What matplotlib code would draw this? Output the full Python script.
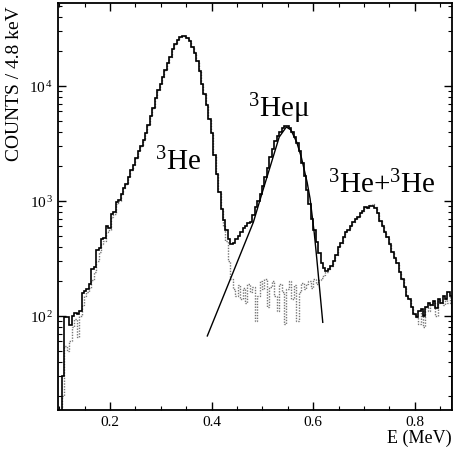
import numpy as np
import matplotlib
matplotlib.use("Agg")
import matplotlib.pyplot as plt
from matplotlib.ticker import FixedLocator, FixedFormatter, MultipleLocator, LogLocator, NullFormatter

plt.rcParams['font.family'] = ['Liberation Serif', 'DejaVu Serif']
plt.rcParams['mathtext.fontset'] = 'custom'
plt.rcParams['mathtext.rm'] = 'Liberation Serif'
plt.rcParams['mathtext.it'] = 'Liberation Serif:italic'

# ---- data ----
bin_start = 0.1056   # MeV
bin_width = 0.0048   # MeV (4.8 keV)

counts_total = [
    30, 97, 98, 84, 100, 106, 104, 110, 158, 165,
    172, 190, 255, 265, 375, 390, 470, 480, 600, 580,
    770, 800, 980, 1020, 1150, 1300, 1400, 1600, 1850, 2050,
    2350, 2700, 3000, 3400, 3900, 4600, 5500, 6500, 7800, 9200,
    10500, 12000, 13800, 15800, 18000, 21000, 23000, 25000, 26800, 27300,
    27000, 26000, 24500, 22000, 19500, 16500, 13500, 10500, 8500, 6800,
    5200, 3900, 2500, 1700, 1200, 850, 680, 560, 470, 420,
    430, 470, 500, 540, 580, 610, 640, 650, 750, 880,
    1000, 1150, 1350, 1600, 1950, 2400, 2850, 3300, 3700, 4000,
    4300, 4500, 4450, 4300, 4000, 3600, 3200, 2700, 2150, 1650,
    1250, 950, 700, 560, 440, 350, 290, 260, 245, 255,
    270, 300, 340, 400, 430, 490, 540, 560, 610, 650,
    700, 730, 790, 820, 880, 860, 900, 905, 870, 780,
    670, 610, 540, 490, 420, 360, 320, 290, 240, 210,
    180, 150, 140, 120, 105, 98, 110, 115, 100, 120,
    130, 125, 135, 118, 140, 130, 150, 140, 160, 150,
]

counts_background = [
    20, 55, 50, 60, 80, 95, 65, 100, 125, 150,
    160, 175, 205, 240, 300, 360, 420, 450, 540, 560,
    720, 770, 950, 1000, 1150, 1300, 1400, 1600, 1850, 2050,
    2350, 2700, 3000, 3400, 3900, 4600, 5500, 6500, 7800, 9200,
    10500, 12000, 13800, 15800, 18000, 21000, 23000, 25000, 26800, 27300,
    27000, 26000, 24500, 22000, 19500, 16500, 13500, 10500, 8500, 6800,
    5200, 3900, 2500, 1700, 1200, 850, 600, 450, 300, 210,
    170, 150, 185, 140, 175, 130, 190, 160, 180, 90,
    150, 200, 170, 210, 120, 180, 200, 150, 110, 190,
    160, 85, 170, 200, 140, 185, 90, 160, 195, 170,
    190, 200, 175, 210, 190, 205, 215, 225, 240, 255,
    270, 300, 340, 400, 430, 490, 540, 560, 610, 650,
    700, 730, 790, 820, 880, 860, 920, 950, 880, 780,
    670, 610, 540, 490, 420, 360, 320, 290, 240, 210,
    180, 150, 140, 120, 105, 98, 85, 115, 80, 120,
    110, 125, 135, 100, 140, 130, 125, 140, 130, 150,
]

fit_energy = [0.3915, 0.4396, 0.4821, 0.500, 0.518, 0.533, 0.547, 0.556,
              0.5675, 0.5765, 0.588, 0.5937, 0.602, 0.6069, 0.6187]
fit_counts = [67, 224, 653, 1200, 2180, 3600, 4400, 4150,
              3240, 2400, 1450, 1050, 525, 316, 88]

x_ticks = [0.2, 0.4, 0.6, 0.8]
x_tick_labels = ["0.2", "0.4", "0.6", "0.8"]
y_ticks = [1e2, 1e3, 1e4]
y_tick_labels = [r"$\mathregular{10^{\,2}}$", r"$\mathregular{10^{\,3}}$", r"$\mathregular{10^{\,4}}$"]

# ---- plot ----
fig = plt.figure(figsize=(4.55, 4.60), dpi=100)
ax = fig.add_axes([0.1275, 0.1065, 0.867, 0.8848])

edges = bin_start + bin_width * np.arange(len(counts_total) + 1)
ax.stairs(counts_background, edges, color='#777777', linestyle=(0, (1, 1)), linewidth=1.0)
ax.stairs(counts_total, edges, color='black', linewidth=1.2)
ax.plot(fit_energy, fit_counts, color='black', linewidth=1.0)

ax.set_yscale('log')
ax.set_xlim(0.0977, 0.874)
ax.set_ylim(15.2, 52700)

ax.xaxis.set_major_locator(FixedLocator(x_ticks))
ax.xaxis.set_major_formatter(FixedFormatter(x_tick_labels))
ax.xaxis.set_minor_locator(MultipleLocator(0.05))
ax.yaxis.set_major_locator(FixedLocator(y_ticks))
ax.yaxis.set_major_formatter(FixedFormatter(y_tick_labels))
ax.yaxis.set_minor_locator(LogLocator(base=10, subs=np.arange(2, 10)))
ax.yaxis.set_minor_formatter(NullFormatter())

ax.tick_params(which='both', direction='in', top=True, right=True, labelsize=11)
ax.tick_params(which='major', length=6, width=1.0)
ax.tick_params(which='minor', length=3, width=0.8)
for s in ax.spines.values():
    s.set_linewidth(1.3)

ax.text(0.2886, 1900, r"$^{3}$He", fontsize=21, ha='left', va='baseline')
ax.text(0.4716, 5480, r"$^{3}$Heμ", fontsize=21, ha='left', va='baseline')
ax.text(0.629, 1197, r"$^{3}$He+$^{3}$He", fontsize=21, ha='left', va='baseline')

fig.text(15 / 455, 1 - 84 / 460, "COUNTS / 4.8 keV", rotation=90, ha='center', va='center', fontsize=14)
fig.text(452 / 455, 1 - 438 / 460, "E (MeV)", ha='right', va='center', fontsize=13)

fig.savefig("out.png", dpi=100)
